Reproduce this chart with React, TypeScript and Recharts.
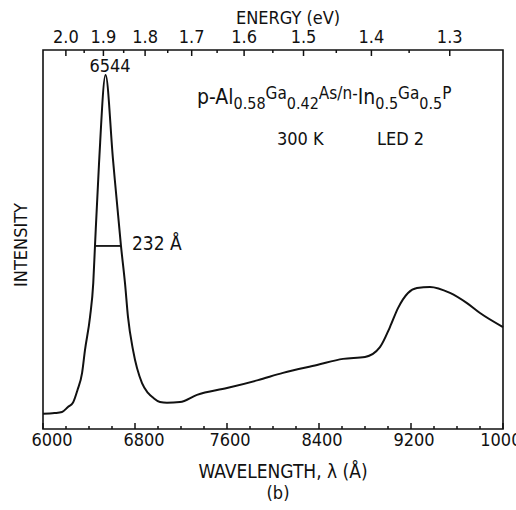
import { LineChart, Line, XAxis, YAxis, ReferenceArea, ReferenceLine } from 'recharts';

// spectrum (wavelength in Å, intensity in arbitrary units 0..100)
const wavelength = [
  6000, 6100, 6165, 6217, 6260, 6300, 6340, 6365, 6409, 6437, 6452, 6487, 6544, 6609, 6678, 6713, 6739,
  6783, 6861, 6913, 6960, 7017, 7078, 7191, 7339, 7600, 7870, 8087, 8383, 8609, 8800, 8930, 9017, 9087,
  9174, 9252, 9365, 9539, 9687, 9800, 10000,
];
const intensity = [
  4.0, 4.2, 4.5, 5.8, 6.9, 10.3, 14.8, 20.8, 29.6, 38.5, 48.3, 70.0, 93.4, 71.0, 48.3, 38.5, 29.6,
  20.8, 12.1, 9.5, 8.2, 7.1, 6.9, 7.1, 9.0, 10.8, 12.9, 14.8, 16.9, 18.5, 19.0, 21.6, 26.9, 31.9,
  35.9, 37.2, 37.5, 35.9, 33.2, 30.6, 26.9,
];

const wlMajor = [6000, 6800, 7600, 8400, 9200, 10000];
const wlMinor = [6200, 6400, 6600, 7000, 7200, 7400, 7800, 8000, 8200, 8600, 8800, 9000, 9400, 9600, 9800];
const energyMajor = [2.0, 1.9, 1.8, 1.7, 1.6, 1.5, 1.4, 1.3];
const energyMinor = [1.95, 1.85, 1.75, 1.65, 1.55, 1.45, 1.35];
const HC = 12398; // eV·Å

const peak = { wl: 6544, label: '6544' };
const fwhm = { from: 6452, to: 6678, level: 48.3, label: '232 Å' };

const data = wavelength.map((wl, i) => ({ wl, y: intensity[i] }));

const FONT = "'DejaVu Sans Condensed', 'DejaVu Sans', sans-serif";
const INK = '#111';

function BottomTick({ x, y, payload }: any) {
  const major = wlMajor.includes(payload.value);
  if (!major) return <line x1={x} x2={x} y1={y} y2={y - 3} stroke={INK} strokeWidth={1.5} />;
  // labels in the scan sit a little right of their ticks
  const dx = payload.value < 7000 ? 9 : 3;
  return (
    <g>
      <line x1={x} x2={x} y1={y} y2={y - 6} stroke={INK} strokeWidth={1.5} />
      <text x={x + dx} y={y + 17} textAnchor="middle" fontSize={18} fontFamily={FONT} fill={INK}>
        {payload.value}
      </text>
    </g>
  );
}

function TopTick({ x, y, payload }: any) {
  const e = HC / payload.value;
  const major = Math.abs(e * 10 - Math.round(e * 10)) < 1e-6;
  if (!major) return <line x1={x} x2={x} y1={y} y2={y + 3} stroke={INK} strokeWidth={1.5} />;
  return (
    <g>
      <line x1={x} x2={x} y1={y} y2={y + 6} stroke={INK} strokeWidth={1.5} />
      <text x={x} y={y - 7} textAnchor="middle" fontSize={18} fontFamily={FONT} fill={INK}>
        {e.toFixed(1)}
      </text>
    </g>
  );
}

export default function App() {
  const topTicks = [...energyMajor, ...energyMinor].map((e) => HC / e).sort((a, b) => a - b);
  const bottomTicks = [...wlMajor, ...wlMinor].sort((a, b) => a - b);
  return (
    <div style={{ position: 'absolute', left: 0, top: 0, width: 516, height: 510, overflow: 'hidden', background: '#fff' }}>
      <LineChart width={516} height={510} data={data} margin={{ top: 20, right: 13, bottom: 51, left: 43 }}>
        <XAxis
          dataKey="wl"
          type="number"
          domain={[6000, 10000]}
          ticks={bottomTicks}
          interval={0}
          axisLine={false}
          tickLine={false}
          tickSize={0}
          tickMargin={0}
          height={30}
          tick={<BottomTick />}
        />
        <XAxis
          xAxisId="top"
          orientation="top"
          dataKey="wl"
          type="number"
          domain={[6000, 10000]}
          ticks={topTicks}
          interval={0}
          axisLine={false}
          tickLine={false}
          tickSize={0}
          tickMargin={0}
          height={30}
          tick={<TopTick />}
        />
        <YAxis hide domain={[0, 100]} />
        <ReferenceArea x1={6000} x2={10000} y1={0} y2={100} fill="none" stroke={INK} strokeWidth={1.6} ifOverflow="visible" />
        <ReferenceLine
          segment={[{ x: fwhm.from, y: fwhm.level }, { x: fwhm.to, y: fwhm.level }]}
          stroke={INK}
          strokeWidth={1.8}
        />
        <Line dataKey="y" type="monotone" stroke={INK} strokeWidth={2} dot={false} isAnimationActive={false} />
      </LineChart>

      <svg width={516} height={510} style={{ position: 'absolute', left: 0, top: 0, pointerEvents: 'none' }} fontFamily={FONT} fill={INK}>
        <text x={288} y={24} textAnchor="middle" fontSize={18}>ENERGY (eV)</text>
        <text x={283} y={478} textAnchor="middle" fontSize={19}>WAVELENGTH, λ (Å)</text>
        <text x={278} y={499} textAnchor="middle" fontSize={18}>(b)</text>
        <text x={0} y={0} transform="translate(27,245) rotate(-90)" textAnchor="middle" fontSize={18}>INTENSITY</text>
        <text x={110} y={72} textAnchor="middle" fontSize={18}>{peak.label}</text>
        <text x={132} y={250} fontSize={19}>{fwhm.label}</text>
        <text x={197} y={104} fontSize={21}>
          p-Al
          <tspan fontSize={16} dy={5}>0.58</tspan>
          <tspan fontSize={17} dy={-10}>Ga</tspan>
          <tspan fontSize={16} dy={10}>0.42</tspan>
          <tspan fontSize={17} dy={-10}>As/n-</tspan>
          <tspan fontSize={21} dy={5}>In</tspan>
          <tspan fontSize={16} dy={5}>0.5</tspan>
          <tspan fontSize={17} dy={-10}>Ga</tspan>
          <tspan fontSize={16} dy={10}>0.5</tspan>
          <tspan fontSize={17} dy={-10}>P</tspan>
        </text>
        <text x={277} y={145} fontSize={18}>300 K</text>
        <text x={377} y={145} fontSize={18}>LED 2</text>
      </svg>
    </div>
  );
}
